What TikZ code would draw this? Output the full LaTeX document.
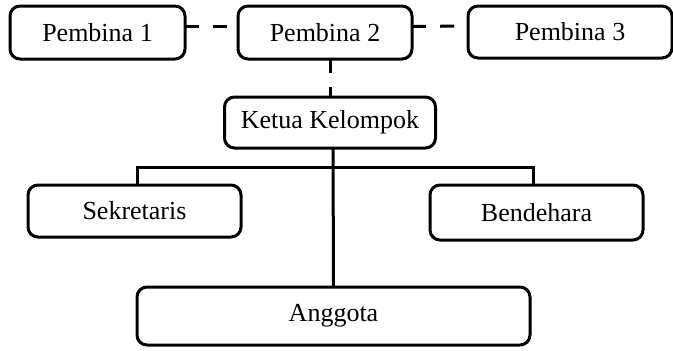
\documentclass[tikz,border=0pt]{standalone}
\usepackage{fontspec}
\setmainfont{Liberation Serif}
\usetikzlibrary{positioning}

\begin{document}
\begin{tikzpicture}[
    x=0.5pt, y=-0.5pt,
    every node/.style={font=\fontsize{13}{15}\selectfont},
    box/.style={draw, line width=1.5pt, rounded corners=5pt, align=center, inner sep=0pt, outer sep=0pt, fill=white},
    link/.style={line width=1.5pt},
    dlink/.style={line width=1.5pt, dash pattern=on 7pt off 7pt}
]
\useasboundingbox (0,0) rectangle (673,350);
\node[box, minimum width=87.5pt, minimum height=26.5pt] (pembina1) at (97.5,32.5) {Pembina 1};
\node[box, minimum width=87pt, minimum height=26.5pt] (pembina2) at (325,32.5) {Pembina 2};
\node[box, minimum width=102pt, minimum height=26pt] (pembina3) at (570,32) {Pembina 3};
\node[box, minimum width=105.5pt, minimum height=25.5pt] (ketua) at (330,122.5) {Ketua Kelompok};
\node[box, minimum width=106.5pt, minimum height=26pt] (sekretaris) at (134.5,211) {Sekretaris};
\node[box, minimum width=106.5pt, minimum height=27.5pt] (bendahara) at (536.5,212.5) {Bendehara};
\node[box, minimum width=196.5pt, minimum height=29pt] (anggota) at (333.5,316) {Anggota};
\coordinate (bar) at (333,167);
\draw[dlink] ([yshift=3pt]pembina1.east) -- ([yshift=3pt]pembina2.west);
\draw[dlink] ([yshift=3pt]pembina2.east) -- ([yshift=3pt]pembina3.west);
\draw[dlink] (pembina2.south -| ketua.north) -- (ketua.north);
\draw[link] ([xshift=1.5pt]ketua.south) -- (anggota.north);
\draw[link] ([xshift=1.5pt]sekretaris.north) |- (bar) -| ([xshift=-1.5pt]bendahara.north);
\end{tikzpicture}
\end{document}
